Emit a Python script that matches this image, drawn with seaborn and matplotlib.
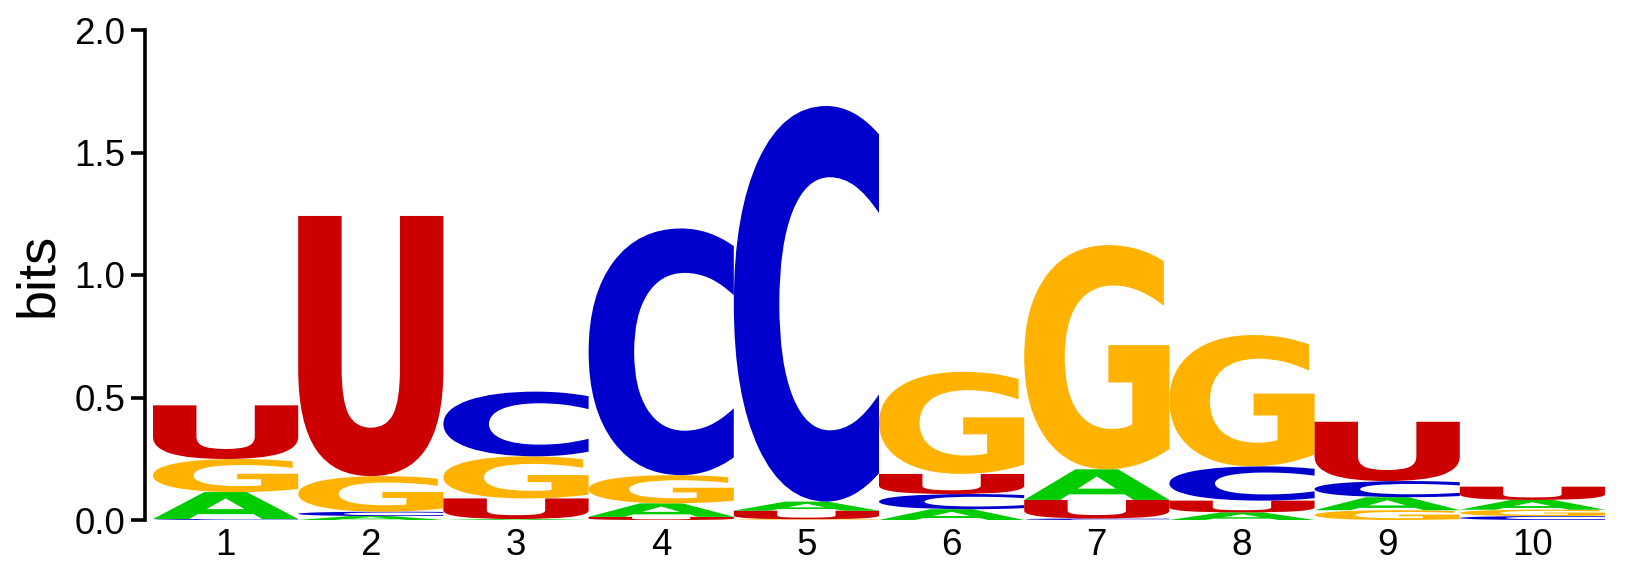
import numpy as np
import pandas as pd
import matplotlib
matplotlib.use("Agg")
import matplotlib.pyplot as plt
import seaborn as sns
from matplotlib.textpath import TextPath
from matplotlib.font_manager import FontProperties
from matplotlib.patches import PathPatch
from matplotlib.transforms import Affine2D

# information content (bits) per letter at each position
positions = list(range(1, 11))
height_A = [0.110, 0.016, 0.004, 0.055, 0.037, 0.044, 0.125, 0.031, 0.053, 0.040]
height_C = [0.004, 0.018, 0.264, 1.007, 1.615, 0.062, 0.006, 0.140, 0.066, 0.016]
height_G = [0.135, 0.145, 0.172, 0.115, 0.003, 0.417, 0.915, 0.536, 0.040, 0.026]
height_U = [0.219, 1.062, 0.084, 0.013, 0.035, 0.082, 0.076, 0.048, 0.242, 0.054]
yticks = [0.0, 0.5, 1.0, 1.5, 2.0]

palette = {"A": "#00CC00", "C": "#0000CC", "G": "#FFB300", "U": "#CC0000"}

sns.set_style("ticks")
plt.rcParams["font.family"] = ["Liberation Sans", "DejaVu Sans"]

df = pd.DataFrame({"pos": positions, "A": height_A, "C": height_C,
                   "G": height_G, "U": height_U})
df = df.melt(id_vars="pos", var_name="letter", value_name="bits")
# smallest at the bottom, tallest on top
df = df.sort_values(["pos", "bits"]).reset_index(drop=True)
df["base"] = df.groupby("pos")["bits"].cumsum() - df["bits"]

font = FontProperties(family="DejaVu Sans", weight="bold")
glyphs = {}
for ch in palette:
    tp = TextPath((0, 0), ch, size=1, prop=font)
    pts = np.vstack(tp.to_polygons())
    glyphs[ch] = (tp, pts.min(axis=0), pts.max(axis=0))


def draw_letter(ax, ch, x, y, w, h, color):
    tp, lo, hi = glyphs[ch]
    tr = (Affine2D()
          .translate(-lo[0], -lo[1])
          .scale(w / (hi[0] - lo[0]), h / (hi[1] - lo[1]))
          .translate(x - w / 2, y))
    path = tr.transform_path(tp)
    ax.add_patch(PathPatch(path, facecolor=color, edgecolor="none", lw=0))


fig = plt.figure(figsize=(16.3, 5.65), dpi=100)
ax = fig.add_axes([145 / 1630, 45 / 565, (1612 - 145) / 1630, 490 / 565])

for _, row in df.iterrows():
    if row["bits"] <= 0:
        continue
    draw_letter(ax, row["letter"], row["pos"], row["base"], 1.0, row["bits"],
                palette[row["letter"]])

col_px = 145.2
ax.set_xlim(0.5 - 8 / col_px, 0.5 + (1612 - 153) / col_px)
ax.set_ylim(0, 2.0)
ax.set_xticks(positions)
ax.set_xticklabels([str(p) for p in positions])
ax.set_yticks(yticks)
ax.set_yticklabels([f"{t:.1f}" for t in yticks])
ax.set_ylabel("bits", fontsize=39, labelpad=8, color="black")

sns.despine(ax=ax, top=True, right=True, bottom=True)
ax.spines["left"].set_linewidth(2.6)
ax.spines["left"].set_color("black")
ax.spines["left"].set_bounds(0, 2.0)
ax.tick_params(axis="y", length=10, width=2.6, labelsize=26.5, pad=4, colors="black")
ax.tick_params(axis="x", length=0, labelsize=26.5, pad=6, labelcolor="black")

fig.savefig("out.png", dpi=100)
